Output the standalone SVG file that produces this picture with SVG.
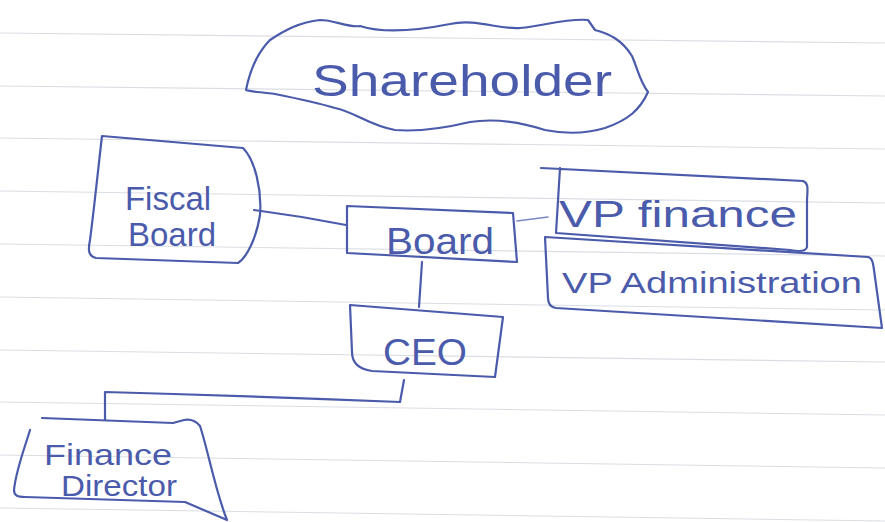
<svg xmlns="http://www.w3.org/2000/svg" width="885" height="522" viewBox="0 0 885 522">
<defs>
<style>
.paper{stroke:#dadde3;stroke-width:1.1;fill:none}
.ink{stroke:#4b5bab;stroke-width:2.2;fill:none;stroke-linecap:round;stroke-linejoin:round}
.faint{stroke:#7b87c0;stroke-width:1.6;fill:none;stroke-linecap:round}
.t{fill:#4b5bab;font-family:"Liberation Sans",Arial,sans-serif;text-anchor:middle}
</style>
</defs>
<rect width="885" height="522" fill="#ffffff"/>
<g id="paper-lines">
<line class="paper" x1="0" y1="33" x2="885" y2="43"/>
<line class="paper" x1="0" y1="86" x2="885" y2="96"/>
<line class="paper" x1="0" y1="138" x2="885" y2="149"/>
<line class="paper" x1="0" y1="191" x2="885" y2="203"/>
<line class="paper" x1="0" y1="244" x2="885" y2="256"/>
<line class="paper" x1="0" y1="297" x2="885" y2="310"/>
<line class="paper" x1="0" y1="350" x2="885" y2="362"/>
<line class="paper" x1="0" y1="402" x2="885" y2="415"/>
<line class="paper" x1="0" y1="455" x2="885" y2="468"/>
<line class="paper" x1="0" y1="508" x2="885" y2="521"/>
</g>
<g id="connectors">
<path class="ink" d="M254 210 Q300 216 346 225"/>
<path class="faint" d="M517 221 L548 217"/>
<path class="ink" d="M422 262 L419 307"/>
<path class="ink" d="M404 380 L400 402 Q250 396 105 392 L105 420"/>
<path class="ink" d="M42 418 L173 423"/>
</g>
<g id="shareholder">
<path class="ink" d="M246 90 C250 70 258 52 270 40 C285 30 300 22 320 20 C335 20 348 28 360 26 C385 34 420 30 450 24 C475 18 500 30 520 28 C545 26 565 18 588 20 L595 30 C610 34 622 40 632 56 C638 70 640 82 648 92 C640 110 628 120 605 128 C585 134 565 134 545 130 C520 122 495 118 470 122 C445 128 420 132 395 130 C370 126 355 112 335 108 C315 102 295 98 275 94 C262 92 252 92 246 90 Z"/>
<text class="t" x="462" y="96" font-size="44" textLength="300" lengthAdjust="spacingAndGlyphs">Shareholder</text>
</g>
<g id="fiscal-board">
<path class="ink" d="M102 136 L243 148 C255 160 262 190 260 215 C256 240 246 258 238 263 L96 258 C88 256 88 250 90 240 C94 210 98 170 102 136 Z"/>
<text class="t" x="168" y="210" font-size="33">Fiscal</text>
<text class="t" x="172" y="246" font-size="33">Board</text>
</g>
<g id="board">
<path class="ink" d="M347 206 L513 213 L517 262 L347 253 Z"/>
<text class="t" x="440" y="254" font-size="37" textLength="108" lengthAdjust="spacingAndGlyphs">Board</text>
</g>
<g id="vp-finance">
<path class="ink" d="M541 168 L803 181 C808 183 808 186 807 200 L807 247 C806 251 800 252 790 250 L556 233 L560 168"/>
<text class="t" x="678" y="227" font-size="36" textLength="238" lengthAdjust="spacingAndGlyphs">VP finance</text>
</g>
<g id="vp-administration">
<path class="ink" d="M545 237 L868 257 C872 258 873 262 874 270 L882 328 L556 308 C550 307 548 303 548 298 L545 237"/>
<text class="t" x="712" y="293" font-size="30" textLength="300" lengthAdjust="spacingAndGlyphs">VP Administration</text>
</g>
<g id="ceo">
<path class="ink" d="M350 305 L503 317 L495 377 L372 371 C358 369 352 362 352 352 Z"/>
<text class="t" x="425" y="365" font-size="36" textLength="84" lengthAdjust="spacingAndGlyphs">CEO</text>
</g>
<g id="finance-director">
<path class="ink" d="M30 430 C24 450 16 470 14 490 C14 496 18 497 25 497 L185 502 L227 520 C215 490 208 450 200 426 C196 421 190 419 184 420 L173 423"/>
<text class="t" x="108" y="465" font-size="30" textLength="128" lengthAdjust="spacingAndGlyphs">Finance</text>
<text class="t" x="119" y="496" font-size="30" textLength="116" lengthAdjust="spacingAndGlyphs">Director</text>
</g>
</svg>
